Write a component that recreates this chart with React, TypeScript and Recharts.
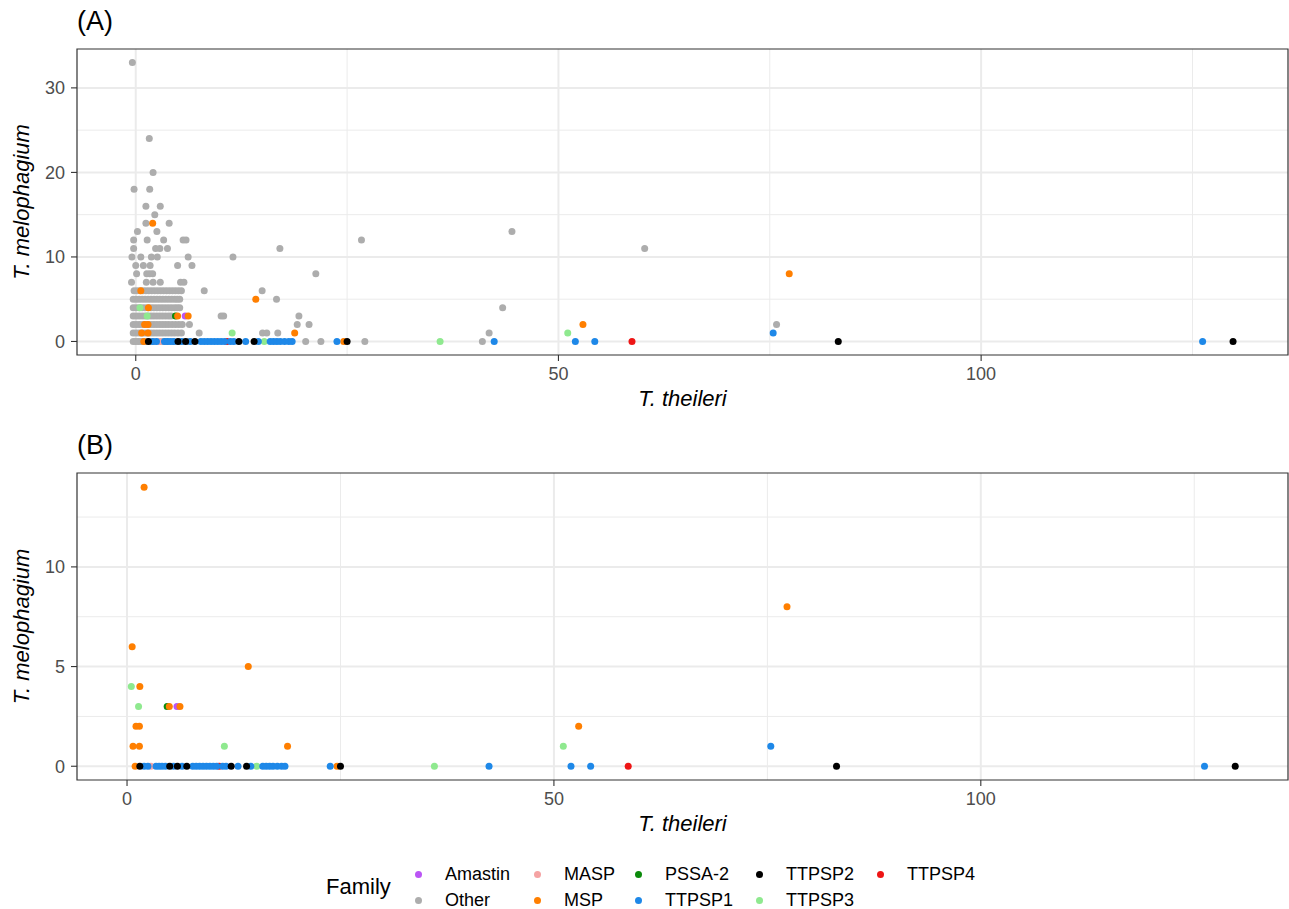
import React from "react";
import {
    ScatterChart,
    Scatter,
    XAxis,
    YAxis,
    CartesianGrid,
    ReferenceArea,
    Label,
} from "recharts";

const FONT = '"Liberation Sans", Arial, Helvetica, sans-serif';

// points are [T. theileri, T. melophagium]
const otherPts: [number, number][] = [
    [-0.3, 0], [0, 0], [0.3, 0], [0.6, 0], [0.9, 0], [1.2, 0], [1.5, 0], [1.8, 0], [2.1, 0], [2.9, 0], [3.3, 0], [3.7, 0], [4.4, 0], [5.3, 0], [6.3, 0], [20.1, 0], [21.9, 0], [27.1, 0], [41, 0],
    [-0.3, 1], [0.05, 1], [0.4, 1], [0.75, 1], [1.1, 1], [1.45, 1], [1.8, 1], [2.15, 1], [2.5, 1], [2.85, 1], [3.2, 1], [3.55, 1], [3.9, 1], [4.25, 1], [4.6, 1], [5, 1], [5.4, 1], [7.5, 1], [15, 1], [15.5, 1], [16.8, 1], [41.8, 1],
    [-0.3, 2], [0.05, 2], [0.4, 2], [0.75, 2], [1.1, 2], [1.45, 2], [1.8, 2], [2.15, 2], [2.5, 2], [2.85, 2], [3.2, 2], [3.55, 2], [3.9, 2], [4.3, 2], [4.7, 2], [5.1, 2], [5.5, 2], [6.35, 2], [19.1, 2], [20.5, 2], [75.8, 2],
    [-0.3, 3], [0.05, 3], [0.4, 3], [0.75, 3], [1.1, 3], [1.45, 3], [1.8, 3], [2.15, 3], [2.5, 3], [2.85, 3], [3.2, 3], [3.55, 3], [3.9, 3], [4.2, 3], [10.1, 3], [10.4, 3], [19.3, 3],
    [-0.3, 4], [0.05, 4], [0.4, 4], [0.75, 4], [1.1, 4], [1.45, 4], [1.8, 4], [2.15, 4], [2.5, 4], [2.85, 4], [3.2, 4], [3.55, 4], [3.9, 4], [4.25, 4], [4.6, 4], [4.9, 4], [5.2, 4], [43.4, 4],
    [-0.3, 5], [0.05, 5], [0.4, 5], [0.75, 5], [1.1, 5], [1.45, 5], [1.8, 5], [2.15, 5], [2.5, 5], [2.85, 5], [3.2, 5], [3.55, 5], [3.9, 5], [4.25, 5], [4.6, 5], [4.9, 5], [5.2, 5], [16.65, 5],
    [-0.2, 6], [0.15, 6], [0.5, 6], [0.85, 6], [1.2, 6], [1.55, 6], [1.9, 6], [2.25, 6], [2.6, 6], [2.95, 6], [3.3, 6], [3.65, 6], [4, 6], [4.35, 6], [4.7, 6], [5.05, 6], [5.4, 6], [8.1, 6], [14.95, 6],
    [-0.5, 7], [1.25, 7], [2.05, 7], [2.9, 7], [5.3, 7], [5.7, 7],
    [0.1, 8], [1.3, 8], [1.65, 8], [2, 8], [21.3, 8],
    [0, 9], [0.9, 9], [1.7, 9], [4.95, 9], [6.65, 9],
    [-0.45, 10], [0.6, 10], [1.85, 10], [2.55, 10], [6.2, 10], [11.5, 10],
    [-0.25, 11], [2.35, 11], [2.85, 11], [3.75, 11], [17.05, 11], [60.2, 11],
    [-0.25, 12], [1.35, 12], [3.3, 12], [5.6, 12], [5.95, 12], [26.7, 12],
    [0.2, 13], [2.5, 13], [44.5, 13],
    [1.2, 14], [3.95, 14],
    [2.25, 15],
    [1.2, 16], [2.9, 16],
    [-0.2, 18], [1.65, 18],
    [2.05, 20],
    [1.6, 24],
    [-0.4, 33],
];

const amastinPts: [number, number][] = [[5.85, 3]];
const maspPts: [number, number][] = [[2.8, 0]];
const mspPts: [number, number][] = [
    [2, 14], [0.6, 6], [14.2, 5], [1.5, 4], [4.95, 3], [6.2, 3], [1.05, 2], [1.45, 2],
    [0.7, 1], [1.45, 1], [18.8, 1], [0.95, 0], [24.6, 0], [52.9, 2], [77.3, 8],
];
const pssa2Pts: [number, number][] = [[4.7, 3]];
const ttpsp1Pts: [number, number][] = [
    [2, 0], [2.45, 0], [3.4, 0], [3.75, 0], [4.1, 0], [4.5, 0], [5.45, 0], [6.45, 0],
    [7.7, 0], [8.1, 0], [8.5, 0], [8.9, 0], [9.3, 0], [9.7, 0], [10.1, 0], [10.5, 0],
    [11.2, 0], [11.6, 0], [13, 0], [14.5, 0], [15.9, 0], [16.3, 0], [16.7, 0], [17.1, 0],
    [17.6, 0], [18.1, 0], [18.5, 0], [23.8, 0], [42.4, 0], [52, 0], [54.3, 0], [75.4, 1], [126.2, 0],
];
const ttpsp2Pts: [number, number][] = [
    [1.5, 0], [5, 0], [5.9, 0], [7, 0], [12.2, 0], [14, 0], [25, 0], [83.1, 0], [129.8, 0],
];
const ttpsp3Pts: [number, number][] = [
    [0.5, 4], [1.35, 3], [11.4, 1], [15.2, 0], [36, 0], [51.1, 1],
];
const ttpsp4Pts: [number, number][] = [[10.8, 0], [58.7, 0]];

const xTicks = [0, 50, 100];
const xMinor = [25, 75, 125];
const yTicksA = [0, 10, 20, 30];
const yMinorA = [5, 15, 25];
const yTicksB = [0, 5, 10];
const yMinorB = [2.5, 7.5, 12.5];

const toRows = (pts: [number, number][]) => pts.map(([x, y]) => ({ x, y }));

const families = [
    { name: "Amastin", color: "#BB55F5", pts: amastinPts },
    { name: "Other", color: "#ADADAD", pts: otherPts },
    { name: "MASP", color: "#F5A3A3", pts: maspPts },
    { name: "MSP", color: "#FF7F00", pts: mspPts },
    { name: "PSSA-2", color: "#0B8A0B", pts: pssa2Pts },
    { name: "TTPSP1", color: "#1E88E8", pts: ttpsp1Pts },
    { name: "TTPSP2", color: "#000000", pts: ttpsp2Pts },
    { name: "TTPSP3", color: "#8FE98F", pts: ttpsp3Pts },
    { name: "TTPSP4", color: "#EE1515", pts: ttpsp4Pts },
];
// drawing order (later ones end up on top)
const drawOrder = ["Other", "Amastin", "MASP", "PSSA-2", "TTPSP4", "TTPSP3", "MSP", "TTPSP1", "TTPSP2"];

const dot = (p: any) => <circle cx={p.cx} cy={p.cy} r={3.5} fill={p.fill} />;

const W = 1289;
const H = 420;

type PanelProps = {
    tag: string;
    top: number;
    marginTop: number;
    xAxisHeight: number;
    xDomain: [number, number];
    yDomain: [number, number];
    yTicks: number[];
    yMinor: number[];
    withOther: boolean;
};

const Panel = (cfg: PanelProps) => {
    const plotTop = cfg.marginTop;
    const plotBottom = H - cfg.xAxisHeight;
    const plotLeft = 77;
    const plotRight = W - 1;

    const xTitle = () => (
        <text
            x={(plotLeft + plotRight) / 2}
            y={plotBottom + 51}
            textAnchor="middle"
            fontSize={22}
            fontStyle="italic"
            fontFamily={FONT}
            fill="#000"
        >
            T. theileri
        </text>
    );
    const yTitle = () => {
        const cx = 29;
        const cy = (plotTop + plotBottom) / 2;
        return (
            <g>
                <text
                    x={plotLeft}
                    y={plotTop - 19.5}
                    fontSize={27}
                    fontFamily={FONT}
                    fill="#000"
                >
                    {cfg.tag}
                </text>
                <text
                    x={cx}
                    y={cy}
                    transform={`rotate(-90, ${cx}, ${cy})`}
                    textAnchor="middle"
                    fontSize={22}
                    fontStyle="italic"
                    fontFamily={FONT}
                    fill="#000"
                >
                    T. melophagium
                </text>
            </g>
        );
    };

    const series = drawOrder
        .map((n) => families.find((f) => f.name === n)!)
        .filter((f) => cfg.withOther || f.name !== "Other");

    return (
        <div style={{ position: "absolute", left: 0, top: cfg.top, width: W, height: H }}>
            <ScatterChart
                width={W}
                height={H}
                margin={{ top: cfg.marginTop, right: 1, bottom: 0, left: 0 }}
            >
                <CartesianGrid
                    horizontalValues={cfg.yMinor}
                    verticalValues={xMinor}
                    stroke="#EBEBEB"
                    strokeWidth={1}
                />
                <CartesianGrid
                    horizontalValues={cfg.yTicks}
                    verticalValues={xTicks}
                    stroke="#EBEBEB"
                    strokeWidth={2}
                />
                <XAxis
                    type="number"
                    dataKey="x"
                    domain={cfg.xDomain}
                    ticks={xTicks}
                    allowDataOverflow
                    interval={0}
                    height={cfg.xAxisHeight}
                    axisLine={false}
                    tickSize={6}
                    tickMargin={6}
                    tickLine={{ stroke: "#333333", strokeWidth: 1.1 }}
                    tick={{ fill: "#4D4D4D", fontSize: 18, fontFamily: FONT }}
                >
                    <Label content={xTitle} />
                </XAxis>
                <YAxis
                    type="number"
                    dataKey="y"
                    domain={cfg.yDomain}
                    ticks={cfg.yTicks}
                    allowDataOverflow
                    interval={0}
                    width={77}
                    axisLine={false}
                    tickSize={6}
                    tickMargin={6}
                    tickLine={{ stroke: "#333333", strokeWidth: 1.1 }}
                    tick={{ fill: "#4D4D4D", fontSize: 18, fontFamily: FONT }}
                >
                    <Label content={yTitle} />
                </YAxis>
                {series.map((f) => (
                    <Scatter
                        key={f.name}
                        name={f.name}
                        data={toRows(f.pts)}
                        fill={f.color}
                        shape={dot}
                        isAnimationActive={false}
                    />
                ))}
                <ReferenceArea
                    x1={cfg.xDomain[0]}
                    x2={cfg.xDomain[1]}
                    y1={cfg.yDomain[0]}
                    y2={cfg.yDomain[1]}
                    fill="none"
                    fillOpacity={0}
                    stroke="#333333"
                    strokeWidth={1.2}
                    ifOverflow="visible"
                />
            </ScatterChart>
        </div>
    );
};

const legendOrder = ["Amastin", "Other", "MASP", "MSP", "PSSA-2", "TTPSP1", "TTPSP2", "TTPSP3", "TTPSP4"];

const FamilyLegend = () => (
    <div style={{ position: "absolute", left: 0, top: 861, width: W, height: 52, fontFamily: FONT, color: "#000" }}>
        <div style={{ position: "absolute", left: 326, top: 0, height: 52, lineHeight: "52px", fontSize: 22 }}>
            Family
        </div>
        <div
            style={{
                position: "absolute",
                left: 401,
                top: 0,
                display: "grid",
                gridTemplateRows: "26px 26px",
                gridTemplateColumns: "119px 101px 121px 121px auto",
                gridAutoFlow: "column",
            }}
        >
            {legendOrder.map((n) => {
                const f = families.find((ff) => ff.name === n)!;
                return (
                    <div key={n} style={{ display: "flex", alignItems: "center", fontSize: 18 }}>
                        <span style={{ width: 34, display: "flex", justifyContent: "center" }}>
                            <span
                                style={{
                                    width: 7,
                                    height: 7,
                                    borderRadius: "50%",
                                    background: f.color,
                                    display: "inline-block",
                                }}
                            />
                        </span>
                        <span style={{ marginLeft: 10, whiteSpace: "nowrap" }}>{n}</span>
                    </div>
                );
            })}
        </div>
    </div>
);

export default function App() {
    return (
        <div
            style={{
                position: "absolute",
                left: 0,
                top: 0,
                width: W,
                height: 909,
                background: "#fff",
                overflow: "hidden",
            }}
        >
            <Panel
                tag="(A)"
                top={0}
                marginTop={49}
                xAxisHeight={65}
                xDomain={[-6.95, 136.3]}
                yDomain={[-1.6, 34.6]}
                yTicks={yTicksA}
                yMinor={yMinorA}
                withOther
            />
            <Panel
                tag="(B)"
                top={420}
                marginTop={53}
                xAxisHeight={60}
                xDomain={[-5.86, 135.98]}
                yDomain={[-0.69, 14.71]}
                yTicks={yTicksB}
                yMinor={yMinorB}
                withOther={false}
            />
            <FamilyLegend />
        </div>
    );
}
